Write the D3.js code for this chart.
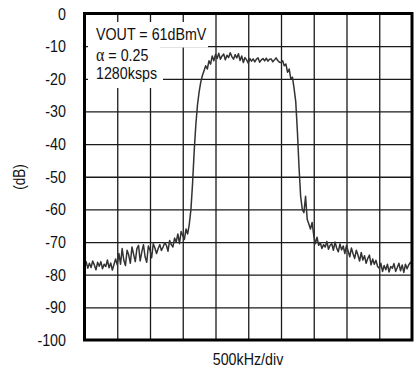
<!DOCTYPE html>
<html>
<head>
<meta charset="utf-8">
<script src="https://cdn.jsdelivr.net/npm/d3@7"></script>
<style>
  body { margin: 0; background: white; }
  text { font-family: 'Liberation Sans', Arial, sans-serif; font-size: 17px; fill: #111; }
</style>
</head>
<body>
<svg width="417" height="377"></svg>
<script>
// sweep: 201 points, -2500kHz .. +2500kHz from centre, 25kHz apart
var startKHz = -2500, stepKHz = 25;

// trace (dB)
var levels = [
  -77.5, -76.0, -78.0, -76.5, -77.8, -75.8, -77.0, -78.5, -76.2, -77.4,
  -76.0, -78.2, -76.8, -77.5, -75.5, -77.9, -76.4, -78.6, -76.9, -75.2,
  -77.0, -73.5, -76.8, -72.0, -75.5, -77.2, -72.5, -74.0, -76.5, -71.5,
  -73.8, -76.0, -72.0, -71.0, -75.8, -73.0, -70.8, -74.5, -76.2, -71.2,
  -72.5, -74.8, -70.5, -71.8, -73.5, -72.0, -70.8, -72.6, -71.5, -70.2,
  -71.0, -72.8, -69.5, -70.8, -71.5, -68.8, -70.0, -67.5, -70.5, -66.8,
  -68.0, -69.2, -66.0, -67.5, -64.5, -60.0, -52.0, -42.0, -34.0, -28.0,
  -24.0, -21.0, -19.0, -17.5, -16.0, -17.0, -14.5, -15.5, -13.0, -14.5,
  -12.5, -13.8, -12.2, -14.0, -13.0, -12.4, -14.2, -12.8, -13.5, -12.0,
  -13.2, -14.0, -12.6, -13.6, -12.3, -14.4, -13.0, -15.0, -13.5, -14.2,
  -15.2, -13.8, -14.6, -13.9, -14.8, -14.0, -13.6, -14.9, -14.2, -13.8,
  -14.5, -13.7, -14.6, -14.0, -13.9, -14.8, -14.2, -13.6, -14.4, -14.9,
  -15.0, -14.5, -16.0, -15.5, -18.0, -17.0, -20.0, -19.5, -23.0, -27.0,
  -36.0, -47.0, -56.0, -60.0, -61.0, -56.0, -63.0, -64.5, -66.0, -64.0,
  -68.0, -70.5, -68.5, -71.0, -70.2, -72.0, -70.8, -71.5, -69.8, -72.2,
  -71.0, -70.5, -72.5, -70.0, -71.8, -73.0, -70.6, -72.4, -71.2, -73.5,
  -71.0, -72.8, -74.5, -71.8, -73.6, -75.0, -72.5, -74.0, -75.8, -73.2,
  -75.5, -74.2, -76.5, -75.0, -74.0, -77.0, -75.2, -76.8, -75.6, -77.5,
  -78.0, -76.5, -79.0, -77.2, -78.5, -76.8, -79.2, -77.5, -78.0, -76.6,
  -79.0, -77.8, -76.5, -78.8, -77.0, -79.3, -76.8, -78.2, -77.0, -76.2, -76.8
];

var yTicks = [0, -10, -20, -30, -40, -50, -60, -70, -80, -90, -100];
var xGrid = [-2000, -1500, -1000, -500, 0, 500, 1000, 1500, 2000];
var notes = ['VOUT = 61dBmV', '= 0.25', '1280ksps'];

// no narrow face installed, so squeeze Liberation Sans sideways
var squeeze = 0.84;

var svg = d3.select('svg');

var margin = {top: 13.5, left: 84.5},
    width = 327.5,
    height = 326.5;

var g = svg.append('g')
    .attr('transform', 'translate(' + margin.left + ',' + margin.top + ')');

var x = d3.scaleLinear()
    .domain([-2500, 2500])
    .range([0, width]);

var y = d3.scaleLinear()
    .domain([-100, 0])
    .range([height, 0]);

// grid
g.append('g')
    .attr('class', 'grid')
    .call(d3.axisLeft(y).tickValues(yTicks.slice(1, -1)).tickSize(-width).tickFormat(''))
    .call(function(a) { a.select('.domain').remove(); });

g.append('g')
    .attr('class', 'grid')
    .attr('transform', 'translate(0,' + height + ')')
    .call(d3.axisBottom(x).tickValues(xGrid).tickSize(-height).tickFormat(''))
    .call(function(a) { a.select('.domain').remove(); });

g.selectAll('.grid line')
    .attr('stroke', '#1a1a1a')
    .attr('stroke-width', 1.3);

// y labels (hyphen minus, like the original)
g.selectAll('g.ylab')
    .data(yTicks)
    .enter().append('g')
    .attr('class', 'ylab')
    .attr('transform', function(d) {
        return 'translate(-18.5,' + (y(d) + 6) + ') scale(' + squeeze + ',1)';
    })
    .append('text')
    .style('text-anchor', 'end')
    .text(function(d) { return String(d); });

// spectrum trace
var pts = levels.map(function(v, i) { return {f: startKHz + i * stepKHz, v: v}; });

g.append('path')
    .datum(pts)
    .attr('fill', 'none')
    .attr('stroke', '#333')
    .attr('stroke-width', 1.5)
    .attr('stroke-linejoin', 'round')
    .attr('d', d3.line()
        .x(function(d) { return x(d.f); })
        .y(function(d) { return y(d.v); }));

// annotation with white backing over the grid
var boxes = [
    {x: 3.5, y: 8.5, w: 120, h: 25.5},
    {x: 3.5, y: 33.5, w: 72, h: 17},
    {x: 3.5, y: 50.5, w: 75, h: 24}
];
g.selectAll('rect.note')
    .data(boxes)
    .enter().append('rect')
    .attr('class', 'note')
    .attr('x', function(d) { return d.x; })
    .attr('y', function(d) { return d.y; })
    .attr('width', function(d) { return d.w; })
    .attr('height', function(d) { return d.h; })
    .attr('fill', 'white');

var baselines = [26.5, 47, 65.5];
var note = g.selectAll('g.note')
    .data(notes)
    .enter().append('g')
    .attr('class', 'note')
    .attr('transform', function(d, i) {
        return 'translate(11.5,' + baselines[i] + ') scale(' + squeeze + ',1)';
    })
    .append('text');

note.each(function(d, i) {
    var t = d3.select(this);
    if (i == 1) {
        t.append('tspan')
            .style('font-family', "'Liberation Serif', serif")
            .style('font-size', '19px')
            .text('\u03b1 ');
    }
    t.append('tspan').text(d);
});

// frame
g.append('rect')
    .attr('width', width)
    .attr('height', height)
    .attr('fill', 'none')
    .attr('stroke', '#000')
    .attr('stroke-width', 3);

// axis titles
svg.append('g')
    .attr('transform', 'translate(25,177) rotate(-90) scale(' + squeeze + ',1)')
    .append('text')
    .style('text-anchor', 'middle')
    .style('font-size', '16px')
    .text('(dB)');

svg.append('g')
    .attr('transform', 'translate(248,365) scale(' + squeeze + ',1)')
    .append('text')
    .style('text-anchor', 'middle')
    .text('500kHz/div');
</script>
</body>
</html>
